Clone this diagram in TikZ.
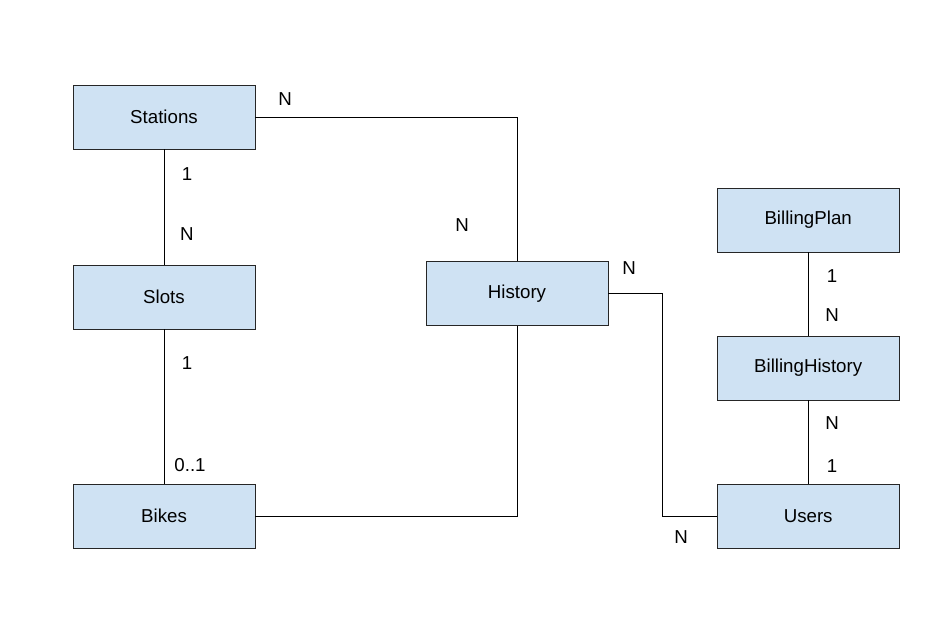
\documentclass[tikz,border=0pt]{standalone}
\usepackage{fontspec}
\setmainfont{Liberation Sans}
\usetikzlibrary{positioning}
\definecolor{boxblue}{HTML}{CFE2F3}

\begin{document}
\begin{tikzpicture}[x=0.025cm,y=-0.025cm,font=\fontsize{13.3}{15}\selectfont,
  line width=0.65pt,
  entity/.style = {draw=black!85, fill=boxblue, minimum width=4.55cm, minimum height=1.6cm, inner sep=0pt, outer sep=0pt},
  card/.style = {inner sep=0pt}]
\useasboundingbox (0,0) rectangle (940,640);

\node[entity] (stations) at (164,117) {Stations};
\node[entity] (slots) [below=2.9cm of stations] {Slots};
\node[entity] (bikes) [below=3.875cm of slots] {Bikes};
\node[entity] (history) at (517,293.5) {History};
\node[entity] (users) [right=11.55cm of bikes] {Users};
\node[entity] (billhist) [above=2.1cm of users] {BillingHistory};
\node[entity] (billplan) [above=2.1cm of billhist] {BillingPlan};

\coordinate (bend) at (662,293.5);

\draw (stations.east) -| (history.north);
\draw (stations.south) -- (slots.north);
\draw (slots.south) -- (bikes.north);
\draw (bikes.east) -| (history.south);
\draw (history.east) -| (bend |- users.west) -- (users.west);
\draw (billplan.south) -- (billhist.north);
\draw (billhist.south) -- (users.north);

\node[card] (c1) at (285,99) {N};
\node[card] (c2) at (187,174) {1};
\node[card] (c3) at (187,234) {N};
\node[card] (c4) at (187,363) {1};
\node[card] (c5) at (190,465) {0..1};
\node[card] (c6) at (462,225) {N};
\node[card] (c7) at (629,268) {N};
\node[card] (c8) at (681,537) {N};
\node[card] (c9) at (832,276) {1};
\node[card] (c10) at (832,315) {N};
\node[card] (c11) at (832,423) {N};
\node[card] (c12) at (832,466) {1};
\end{tikzpicture}
\end{document}
